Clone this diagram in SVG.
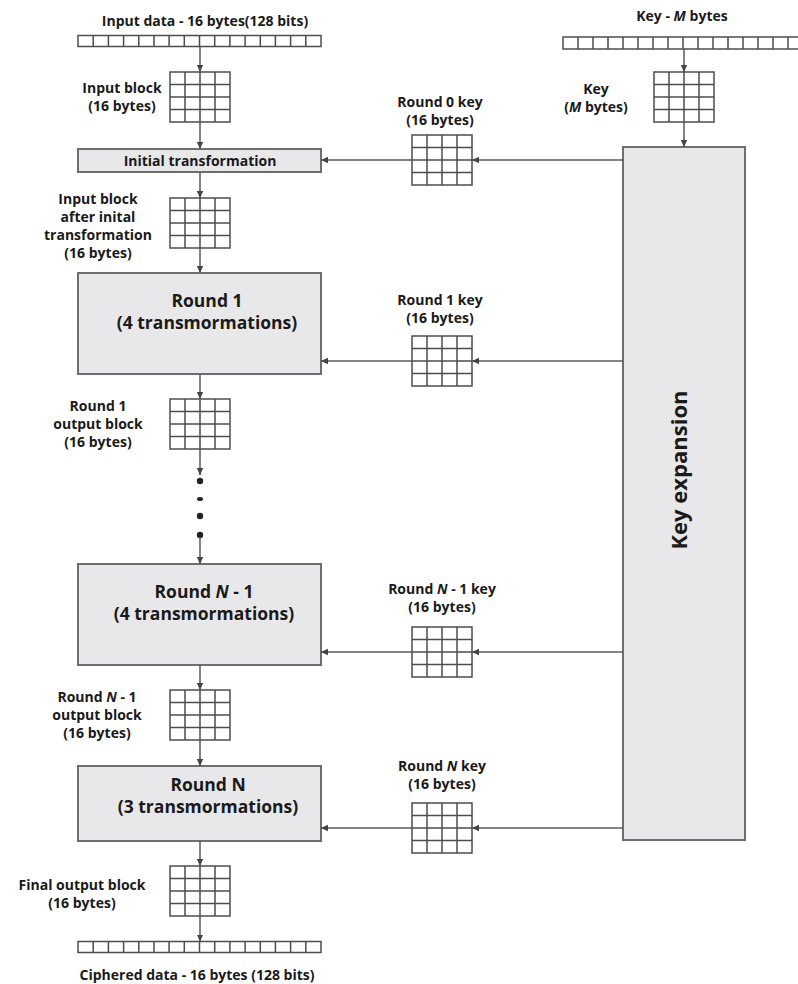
<svg xmlns="http://www.w3.org/2000/svg" xmlns:xlink="http://www.w3.org/1999/xlink" width="798" height="984" viewBox="0 0 798 984">
<style>
.t{font-family:"Open Sans","Liberation Sans",sans-serif;font-weight:700;font-size:14px;fill:#1a1a1a;text-anchor:middle}
.tb{font-family:"Open Sans","Liberation Sans",sans-serif;font-weight:700;font-size:17.5px;fill:#1a1a1a;text-anchor:middle}
.box{fill:#e8e8ea;stroke:#6e6e6e;stroke-width:2}
.g{fill:#fff;stroke:#4d4d4d;stroke-width:1.5}
.gl{stroke:#4d4d4d;stroke-width:1.5;fill:none}
.c{stroke:#5a5a5a;stroke-width:1.5;fill:none}
</style>
<defs>
<marker id="ah" markerUnits="userSpaceOnUse" markerWidth="8" markerHeight="8" refX="7" refY="4" orient="auto">
<path d="M0,0.8 L7,4 L0,7.2 z" fill="#444"/>
</marker>
<g id="grid">
<rect class="g" x="0" y="0" width="60" height="50"/>
<path class="gl" d="M15,0V50M30,0V50M45,0V50M0,12.5H60M0,25H60M0,37.5H60"/>
</g>
<g id="bar">
<rect class="g" x="0" y="0" width="243" height="11"/>
<path class="gl" d="M15.2,0v11M30.4,0v11M45.6,0v11M60.8,0v11M76,0v11M91.1,0v11M106.3,0v11M121.5,0v11M136.7,0v11M151.9,0v11M167.1,0v11M182.3,0v11M197.4,0v11M212.6,0v11M227.8,0v11"/>
</g>
</defs>
<rect width="798" height="984" fill="#fff"/>

<g id="input-data">
<text class="t" x="205" y="26">Input data - 16 bytes(128 bits)</text>
<use xlink:href="#bar" x="78" y="35.5"/>
</g>
<g id="input-block">
<use xlink:href="#grid" x="170" y="72"/>
<text class="t" x="122" y="93">Input block</text>
<text class="t" x="122" y="111">(16 bytes)</text>
</g>
<g id="initial-transformation">
<rect class="box" x="78" y="149" width="243" height="23"/>
<text class="t" x="200" y="165.5">Initial transformation</text>
</g>
<g id="block-after-initial">
<use xlink:href="#grid" x="170" y="198"/>
<text class="t" x="98" y="204">Input block</text>
<text class="t" x="98" y="222">after inital</text>
<text class="t" x="98" y="240">transformation</text>
<text class="t" x="98" y="258">(16 bytes)</text>
</g>
<g id="round-1">
<rect class="box" x="78" y="273" width="243" height="101"/>
<text class="tb" x="207" y="307">Round 1</text>
<text class="tb" x="207" y="329">(4 transmormations)</text>
</g>
<g id="round-1-output">
<use xlink:href="#grid" x="170" y="399"/>
<text class="t" x="98" y="411">Round 1</text>
<text class="t" x="98" y="429">output block</text>
<text class="t" x="98" y="447">(16 bytes)</text>
</g>
<g id="ellipsis">
<circle cx="200" cy="481" r="3.2" fill="#222"/>
<ellipse cx="200" cy="499" rx="3" ry="2" fill="#222"/>
<circle cx="200" cy="516" r="3.2" fill="#222"/>
<circle cx="200" cy="535" r="3.2" fill="#222"/>
</g>
<g id="round-n-1">
<rect class="box" x="78" y="564" width="243" height="101"/>
<text class="tb" x="204" y="598">Round <tspan font-style="italic">N</tspan> - 1</text>
<text class="tb" x="204" y="620">(4 transmormations)</text>
</g>
<g id="round-n-1-output">
<use xlink:href="#grid" x="170" y="690"/>
<text class="t" x="97" y="702">Round <tspan font-style="italic">N</tspan> - 1</text>
<text class="t" x="97" y="720">output block</text>
<text class="t" x="97" y="738">(16 bytes)</text>
</g>
<g id="round-n">
<rect class="box" x="78" y="766" width="243" height="75"/>
<text class="tb" x="208" y="791">Round N</text>
<text class="tb" x="208" y="813">(3 transmormations)</text>
</g>
<g id="final-output">
<use xlink:href="#grid" x="170" y="866"/>
<text class="t" x="82" y="890">Final output block</text>
<text class="t" x="82" y="908">(16 bytes)</text>
</g>
<g id="ciphered-data">
<use xlink:href="#bar" x="78" y="941.5"/>
<text class="t" x="197" y="980">Ciphered data - 16 bytes (128 bits)</text>
</g>

<g id="key-data">
<text class="t" x="682" y="21">Key - <tspan font-style="italic">M</tspan> bytes</text>
<rect class="g" x="563" y="37" width="245" height="12"/>
<path class="gl" d="M578,37v12M593,37v12M608,37v12M623,37v12M638,37v12M653,37v12M668,37v12M683,37v12M698,37v12M713,37v12M728,37v12M743,37v12M758,37v12M773,37v12M788,37v12"/>
</g>
<g id="key-block">
<use xlink:href="#grid" x="654" y="72"/>
<text class="t" x="596" y="94">Key</text>
<text class="t" x="596" y="112">(<tspan font-style="italic">M</tspan> bytes)</text>
</g>
<g id="key-expansion">
<rect class="box" x="623" y="147" width="122" height="693"/>
<text x="678" y="470" transform="rotate(-90 678 470)" font-family="Open Sans, Liberation Sans, sans-serif" font-weight="700" font-size="22" fill="#1a1a1a" text-anchor="middle" dominant-baseline="central">Key expansion</text>
</g>
<g id="round-0-key">
<use xlink:href="#grid" x="412" y="135"/>
<text class="t" x="440" y="107">Round 0 key</text>
<text class="t" x="440" y="125">(16 bytes)</text>
</g>
<g id="round-1-key">
<use xlink:href="#grid" x="412" y="336"/>
<text class="t" x="440" y="305">Round 1 key</text>
<text class="t" x="440" y="323">(16 bytes)</text>
</g>
<g id="round-n-1-key">
<use xlink:href="#grid" x="412" y="627"/>
<text class="t" x="442" y="594">Round <tspan font-style="italic">N</tspan> - 1 key</text>
<text class="t" x="442" y="612">(16 bytes)</text>
</g>
<g id="round-n-key">
<use xlink:href="#grid" x="412" y="803"/>
<text class="t" x="442" y="771">Round <tspan font-style="italic">N</tspan> key</text>
<text class="t" x="442" y="789">(16 bytes)</text>
</g>

<g id="connectors">
<line class="c" x1="200" y1="46.5" x2="200" y2="72" marker-end="url(#ah)"/>
<line class="c" x1="200" y1="122" x2="200" y2="149" marker-end="url(#ah)"/>
<line class="c" x1="200" y1="172" x2="200" y2="198" marker-end="url(#ah)"/>
<line class="c" x1="200" y1="248" x2="200" y2="273" marker-end="url(#ah)"/>
<line class="c" x1="200" y1="374" x2="200" y2="399" marker-end="url(#ah)"/>
<line class="c" x1="200" y1="449" x2="200" y2="475" marker-end="url(#ah)"/>
<line class="c" x1="200" y1="537" x2="200" y2="564" marker-end="url(#ah)"/>
<line class="c" x1="200" y1="665" x2="200" y2="690" marker-end="url(#ah)"/>
<line class="c" x1="200" y1="740" x2="200" y2="766" marker-end="url(#ah)"/>
<line class="c" x1="200" y1="841" x2="200" y2="866" marker-end="url(#ah)"/>
<line class="c" x1="200" y1="916" x2="200" y2="941.5" marker-end="url(#ah)"/>
<line class="c" x1="684" y1="49" x2="684" y2="72" marker-end="url(#ah)"/>
<line class="c" x1="684" y1="122" x2="684" y2="147" marker-end="url(#ah)"/>
<line class="c" x1="623" y1="160" x2="472" y2="160" marker-end="url(#ah)"/>
<line class="c" x1="412" y1="160" x2="321" y2="160" marker-end="url(#ah)"/>
<line class="c" x1="623" y1="361" x2="472" y2="361" marker-end="url(#ah)"/>
<line class="c" x1="412" y1="361" x2="321" y2="361" marker-end="url(#ah)"/>
<line class="c" x1="623" y1="652" x2="472" y2="652" marker-end="url(#ah)"/>
<line class="c" x1="412" y1="652" x2="321" y2="652" marker-end="url(#ah)"/>
<line class="c" x1="623" y1="828" x2="472" y2="828" marker-end="url(#ah)"/>
<line class="c" x1="412" y1="828" x2="321" y2="828" marker-end="url(#ah)"/>
</g>
</svg>
